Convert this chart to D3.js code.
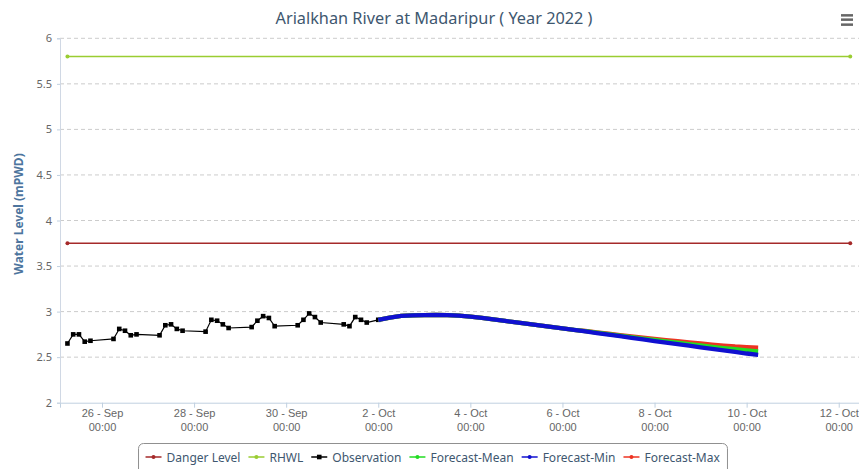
<!DOCTYPE html>
<meta charset="utf-8">
<style>
body { margin: 0; background: #fff; }
svg { font-family: "Noto Sans", "DejaVu Sans", sans-serif; }
.grid line { stroke: #cccccc; stroke-dasharray: 4,3; }
</style>
<body>
<svg width="859" height="469"></svg>
<script src="https://cdn.jsdelivr.net/npm/d3@7"></script>
<script>

// observed water level (mPWD), readings at 06,09,12,15,18h
var obsTimes = [
  "2022-09-25 06", "2022-09-25 09", "2022-09-25 12", "2022-09-25 15", "2022-09-25 18",
  "2022-09-26 06", "2022-09-26 09", "2022-09-26 12", "2022-09-26 15", "2022-09-26 18",
  "2022-09-27 06", "2022-09-27 09", "2022-09-27 12", "2022-09-27 15", "2022-09-27 18",
  "2022-09-28 06", "2022-09-28 09", "2022-09-28 12", "2022-09-28 15", "2022-09-28 18",
  "2022-09-29 06", "2022-09-29 09", "2022-09-29 12", "2022-09-29 15", "2022-09-29 18",
  "2022-09-30 06", "2022-09-30 09", "2022-09-30 12", "2022-09-30 15", "2022-09-30 18",
  "2022-10-01 06", "2022-10-01 09", "2022-10-01 12", "2022-10-01 15", "2022-10-01 18",
  "2022-10-02 00"
];
var obsValues = [
  2.65, 2.75, 2.75, 2.67, 2.68,
  2.70, 2.81, 2.79, 2.74, 2.75,
  2.74, 2.85, 2.86, 2.81, 2.79,
  2.78, 2.91, 2.90, 2.86, 2.82,
  2.83, 2.90, 2.95, 2.93, 2.84,
  2.85, 2.91, 2.98, 2.94, 2.88,
  2.86, 2.84, 2.94, 2.91, 2.88,
  2.91
];

// forecast, every 6 hours from 2 Oct 00:00 to 10 Oct 06:00
var forecastStart = "2022-10-02 00";
var forecastEnd = "2022-10-10 06";
var forecastMin = [2.91, 2.935, 2.952, 2.958, 2.962, 2.963, 2.961, 2.955, 2.944, 2.930, 2.914, 2.898,
  2.881, 2.865, 2.849, 2.833, 2.817, 2.800, 2.783, 2.765, 2.748, 2.730, 2.712, 2.695,
  2.677, 2.660, 2.643, 2.626, 2.608, 2.591, 2.574, 2.557, 2.540, 2.526];
var forecastMean = [2.91, 2.935, 2.952, 2.958, 2.962, 2.963, 2.961, 2.955, 2.944, 2.930, 2.914, 2.898,
  2.881, 2.865, 2.849, 2.833, 2.817, 2.800, 2.785, 2.768, 2.752, 2.736, 2.720, 2.704,
  2.689, 2.674, 2.659, 2.644, 2.629, 2.614, 2.600, 2.587, 2.574, 2.563];
var forecastMax = [2.91, 2.935, 2.952, 2.958, 2.962, 2.963, 2.961, 2.955, 2.944, 2.930, 2.914, 2.898,
  2.881, 2.865, 2.849, 2.833, 2.817, 2.800, 2.787, 2.772, 2.757, 2.742, 2.728, 2.714,
  2.701, 2.688, 2.675, 2.662, 2.650, 2.638, 2.627, 2.617, 2.610, 2.605];

var refTimes = ["2022-09-25 06", "2022-10-12 06"];
var dangerLevel = 3.75;
var rhwl = 5.8;

var yTicks = [2, 2.5, 3, 3.5, 4, 4.5, 5, 5.5, 6];
var xTickDates = ["2022-09-26 00", "2022-09-28 00", "2022-09-30 00", "2022-10-02 00",
  "2022-10-04 00", "2022-10-06 00", "2022-10-08 00", "2022-10-10 00", "2022-10-12 00"];

var legendNames = ["Danger Level", "RHWL", "Observation", "Forecast-Mean", "Forecast-Min", "Forecast-Max"];
var legendColors = ["#a52a2a", "#9acd32", "#000000", "#22dd22", "#1010d0", "#ee3322"];

var parse = d3.utcParse("%Y-%m-%d %H");
var svg = d3.select("svg");

var x = d3.scaleUtc()
    .domain([new Date(Date.UTC(2022, 8, 25, 2, 7)), new Date(Date.UTC(2022, 9, 12, 10, 34))])
    .range([60, 859]);

var y = d3.scaleLinear()
    .domain([2, 6])
    .range([402.7, 38.3]);

// title
svg.append("text")
    .attr("x", 434)
    .attr("y", 24)
    .attr("text-anchor", "middle")
    .attr("font-size", "16.3px")
    .attr("fill", "#3e576f")
    .text("Arialkhan River at Madaripur ( Year 2022 )");

// menu icon
[15.3, 19.6, 24.6].forEach(function(yy) {
  svg.append("rect")
      .attr("x", 841).attr("y", yy - 1.2)
      .attr("width", 12).attr("height", 2.5)
      .attr("fill", "#666");
});

// grid
svg.append("g")
    .attr("class", "grid")
  .selectAll("line")
  .data(yTicks.slice(1))
  .enter().append("line")
    .attr("x1", 60).attr("x2", 859)
    .attr("y1", function(d) { return y(d); })
    .attr("y2", function(d) { return y(d); });

// y axis
var yAxis = svg.append("g")
    .attr("transform", "translate(60,0)")
    .call(d3.axisLeft(y).tickValues(yTicks).tickSize(3).tickPadding(5)
      .tickFormat(function(d) { return d; }));
yAxis.select(".domain").attr("stroke", "#d0d8e4");
yAxis.selectAll(".tick line").attr("stroke", "#c0d0e0");
yAxis.selectAll(".tick text").attr("fill", "#666").attr("font-size", "11px")
    .attr("font-family", "Noto Sans");

svg.append("text")
    .attr("transform", "translate(23,214) rotate(-90)")
    .attr("text-anchor", "middle")
    .attr("font-size", "12px")
    .attr("font-weight", "bold")
    .attr("fill", "#4d759e")
    .text("Water Level (mPWD)");

// x axis
var xAxis = svg.append("g")
    .attr("transform", "translate(0,402.7)")
    .call(d3.axisBottom(x).tickValues(xTickDates.map(parse)).tickSize(5).tickFormat(""));
xAxis.select(".domain").attr("stroke", "#c0d0e0");
xAxis.selectAll(".tick line").attr("stroke", "#c0d0e0");
var fmtDay = d3.utcFormat("%-d - %b");
xAxis.selectAll(".tick").each(function(d) {
  var t = d3.select(this).append("text")
      .attr("fill", "#666")
      .attr("font-size", "11px")
      .attr("text-anchor", "middle");
  t.append("tspan").attr("x", 0).attr("y", 14).text(fmtDay(d));
  t.append("tspan").attr("x", 0).attr("y", 28).text("00:00");
});

var line = d3.line()
    .x(function(d) { return x(d[0]); })
    .y(function(d) { return y(d[1]); });

// reference levels
function refLine(value, color) {
  var pts = refTimes.map(function(t) { return [parse(t), value]; });
  svg.append("path")
      .datum(pts)
      .attr("d", line)
      .attr("fill", "none")
      .attr("stroke", color)
      .attr("stroke-width", 1.5);
  svg.selectAll(null)
      .data(pts)
      .enter().append("circle")
      .attr("cx", function(d) { return x(d[0]); })
      .attr("cy", function(d) { return y(d[1]); })
      .attr("r", 2)
      .attr("fill", color);
}
refLine(dangerLevel, legendColors[0]);
refLine(rhwl, legendColors[1]);

// observation
var obs = obsTimes.map(function(t, i) { return [parse(t), obsValues[i]]; });
svg.append("path")
    .datum(obs)
    .attr("d", line)
    .attr("fill", "none")
    .attr("stroke", "#000")
    .attr("stroke-width", 1.2);
svg.selectAll(".obs")
    .data(obs)
    .enter().append("rect")
    .attr("class", "obs")
    .attr("x", function(d) { return x(d[0]) - 2.3; })
    .attr("y", function(d) { return y(d[1]) - 2.3; })
    .attr("width", 4.6).attr("height", 4.6)
    .attr("fill", "#000");

// forecasts
var fTimes = d3.utcHour.every(6).range(parse(forecastStart), d3.utcHour.offset(parse(forecastEnd), 1));
function fcLine(values, color) {
  svg.append("path")
      .datum(values.map(function(v, i) { return [fTimes[i], v]; }))
      .attr("d", line)
      .attr("fill", "none")
      .attr("stroke", color)
      .attr("stroke-width", 4.3)
      .attr("stroke-linejoin", "round");
}
fcLine(forecastMax, legendColors[5]);
fcLine(forecastMean, legendColors[3]);
fcLine(forecastMin, legendColors[4]);

// legend
var lg = svg.append("g");
var items = lg.selectAll("g")
    .data(legendNames)
    .enter().append("g");
items.append("line")
    .attr("x1", 0).attr("x2", 16).attr("y1", 0).attr("y2", 0)
    .attr("stroke", function(d, i) { return legendColors[i]; })
    .attr("stroke-width", 1.5);
items.each(function(d, i) {
  var g = d3.select(this);
  if (i === 2) {
    g.append("rect").attr("x", 5.7).attr("y", -2.3).attr("width", 4.6).attr("height", 4.6)
        .attr("fill", "#000");
  } else {
    g.append("circle").attr("cx", 8).attr("cy", 0).attr("r", 2)
        .attr("fill", legendColors[i]);
  }
});
items.append("text")
    .attr("x", 21)
    .attr("y", 4.5)
    .attr("font-size", "12px")
    .attr("fill", "#3e576f")
    .text(function(d) { return d; });

var pos = 0;
items.each(function() {
  var w = this.getBBox().width;
  d3.select(this).attr("transform", "translate(" + pos + ",457)");
  pos += w + 8;
});
var totalW = pos - 8;
var lx = 433 - totalW / 2;
lg.attr("transform", "translate(" + lx + ",0)");
lg.insert("rect", ":first-child")
    .attr("x", -7).attr("y", 443.5)
    .attr("width", totalW + 14).attr("height", 35)
    .attr("rx", 5)
    .attr("fill", "#fff")
    .attr("stroke", "#909090");

</script>
</body>
